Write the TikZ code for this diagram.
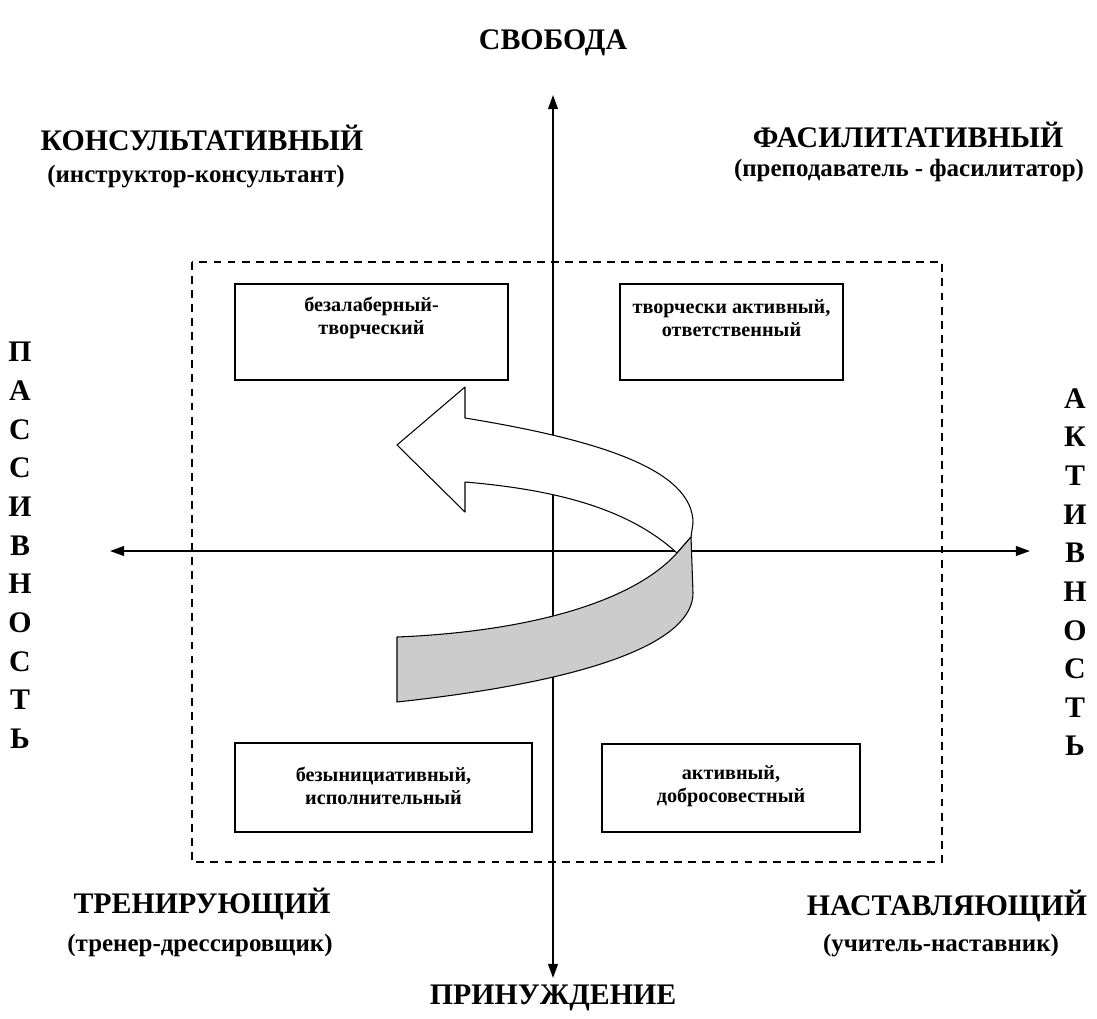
\documentclass[tikz,border=0pt]{standalone}
\usepackage{fontspec}
\setmainfont{Liberation Serif}
\usetikzlibrary{arrows.meta}

\begin{document}
\begin{tikzpicture}[x=0.02cm, y=-0.02cm,
    axis/.style={line width=1.1pt, {Triangle[length=8pt,width=5.5pt]}-{Triangle[length=8pt,width=5.5pt]}},
    frame/.style={line width=0.8pt, dash pattern=on 4.5pt off 3.5pt},
    cell/.style={draw, line width=0.9pt, inner sep=0pt},
    celltext/.style={align=center, font=\fontsize{11.5}{13}\selectfont\bfseries},
    head/.style={anchor=base, font=\fontsize{17}{20}\selectfont\bfseries},
    sub/.style={anchor=base, font=\fontsize{14.2}{16}\selectfont\bfseries},
    column/.style={anchor=north, align=center, inner sep=0pt, font=\fontsize{17}{22}\selectfont\bfseries},
    ribbon/.style={line width=0.6pt, line join=round}]
    \useasboundingbox (0,0) rectangle (1097,1018);

    \draw[frame] (192,262) rectangle (942,862);

    \node[cell, minimum width=5.46cm, minimum height=1.92cm] (tl) at (371.5,332) {};
    \node[cell, minimum width=4.46cm, minimum height=1.92cm] (tr) at (731.5,332) {};
    \node[cell, minimum width=5.94cm, minimum height=1.78cm] (bl) at (383.5,787.5) {};
    \node[cell, minimum width=5.16cm, minimum height=1.76cm] (br) at (731,788) {};
    \node[celltext] (tltext) at (tl.center) [yshift=8pt] {безалаберный-\\творческий};
    \node[celltext] (trtext) at (tr.center) [yshift=8pt] {творчески активный,\\ответственный};
    \node[celltext] (bltext) at (bl.center) [yshift=1pt] {безынициативный,\\исполнительный};
    \node[celltext] (brtext) at (br.center) [yshift=1pt] {активный,\\добросовестный};

    \coordinate (top) at (553,95);
    \coordinate (bottom) at (553,978);
    \coordinate (left) at (110,551);
    \coordinate (right) at (1030,551);
    \draw[axis] (bottom) -- (top);
    \draw[axis] (left) -- (right);

    % curved arrow: back part white, front part grey
    \filldraw[ribbon, fill=white] (465,418) .. controls (600,440) and (693,470) .. (693,523)
        -- (691,537) -- (677,553) .. controls (630,510) and (560,490) .. (465,482)
        -- (465,512) -- (397,445) -- (465,387) -- cycle;
    \filldraw[ribbon, fill=black!20] (397,637) .. controls (520,632) and (630,605) .. (677,553)
        -- (691,537) -- (693,593) .. controls (693,640) and (600,680) .. (397,702) -- cycle;

    \node[head] (free) at (553,49) {СВОБОДА};
    \node[head] (force) at (553,1004) {ПРИНУЖДЕНИЕ};
    \node[head] (cons) at (202,150) {КОНСУЛЬТАТИВНЫЙ};
    \node[sub] (conssub) at (196,182) {(инструктор-консультант)};
    \node[head] (facil) at (908,147) {ФАСИЛИТАТИВНЫЙ};
    \node[sub] (facilsub) at (909,176) {(преподаватель - фасилитатор)};
    \node[head] (train) at (202,913) {ТРЕНИРУЮЩИЙ};
    \node[sub] (trainsub) at (200,951) {(тренер-дрессировщик)};
    \node[head] (mentor) at (947,915) {НАСТАВЛЯЮЩИЙ};
    \node[sub] (mentorsub) at (941,951) {(учитель-наставник)};

    \node[column] (passive) at (20,342) {П\\А\\С\\С\\И\\В\\Н\\О\\С\\Т\\Ь};
    \node[column] (active) at (1075,388) {А\\К\\Т\\И\\В\\Н\\О\\С\\Т\\Ь};
\end{tikzpicture}
\end{document}
